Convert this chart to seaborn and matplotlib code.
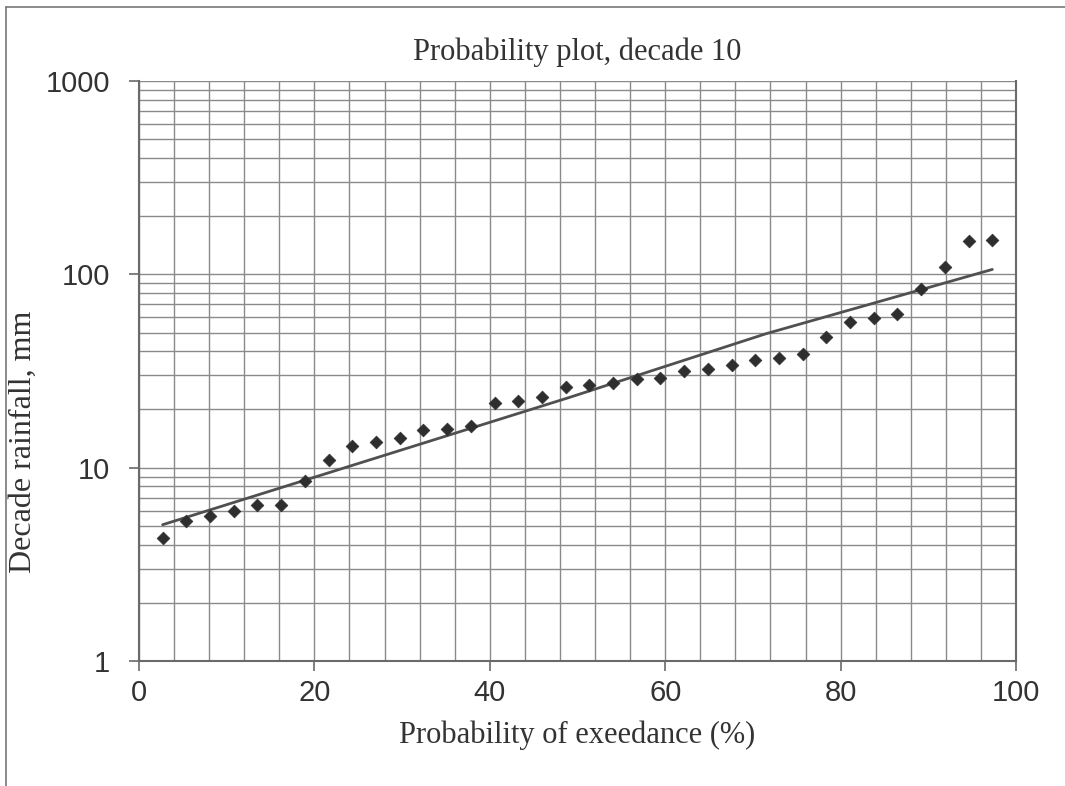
import numpy as np
import pandas as pd
import matplotlib
matplotlib.use("Agg")
import matplotlib.pyplot as plt
import matplotlib.ticker as mticker
import seaborn as sns

# plotting positions i/(n+1), n = 36
exceedance = [i / 37 * 100 for i in range(1, 37)]
rainfall = [4.35, 5.3, 5.6, 6.0, 6.4, 6.4, 8.5, 11.0, 12.9, 13.6, 14.2, 15.6,
            15.9, 16.5, 21.6, 22.1, 23.3, 26.1, 26.7, 27.5, 28.6, 29.2, 31.8, 32.3,
            33.8, 36.1, 37.0, 38.8, 47.3, 56.4, 59.4, 62.6, 83.9, 109, 148, 150]

# trend line
trend_x = [2.7, 49.1, 71.5, 97.3]
trend_y = [5.07, 23.1, 49.3, 106]

df = pd.DataFrame({'p': exceedance, 'rain': rainfall})
trend = pd.DataFrame({'p': trend_x, 'rain': trend_y})

sns.set_theme(style="white")
plt.rcParams['font.family'] = ['Liberation Sans', 'DejaVu Sans']

fig = plt.figure(figsize=(10.65, 7.86), dpi=100)
ax = fig.add_axes([0.1305, 0.159, 0.8235, 0.738])

grid_col = '#8a8a8a'
ax.set_yscale('log')
ax.set_xlim(0, 100)
ax.set_ylim(1, 1000)
ax.xaxis.set_major_locator(mticker.MultipleLocator(20))
ax.xaxis.set_minor_locator(mticker.MultipleLocator(4))
ax.yaxis.set_major_locator(mticker.LogLocator(base=10))
ax.yaxis.set_minor_locator(mticker.LogLocator(base=10, subs=np.arange(2, 10)))
ax.yaxis.set_major_formatter(mticker.FuncFormatter(lambda v, _: f"{v:g}"))
ax.yaxis.set_minor_formatter(mticker.NullFormatter())
ax.grid(True, which='both', color=grid_col, linewidth=1.0)
ax.set_axisbelow(True)

sns.lineplot(data=trend, x='p', y='rain', ax=ax, color='#505050', linewidth=2.0)
sns.scatterplot(data=df, x='p', y='rain', ax=ax, marker='D', s=42,
                color='#2e2e2e', edgecolor='#2e2e2e', zorder=3)

for side in ['left', 'bottom', 'right', 'top']:
    ax.spines[side].set_color('#6a6a6a')
    ax.spines[side].set_linewidth(1.5)
ax.spines['top'].set_visible(False)
ax.tick_params(which='major', direction='out', length=7, width=1.2, color='#6a6a6a',
               labelsize=21, labelcolor='#333333', bottom=True, left=True)
ax.tick_params(axis='y', which='major', pad=14)
ax.tick_params(axis='x', which='major', pad=6)
ax.tick_params(which='minor', length=0)

serif = ['Liberation Serif', 'DejaVu Serif']
ax.set_title('Probability plot, decade 10', family=serif, fontsize=22,
             color='#333333', pad=15)
ax.set_xlabel('Probability of exeedance (%)', family=serif, fontsize=22,
              color='#333333', labelpad=10)
ax.set_ylabel('Decade rainfall, mm', family=serif, fontsize=23,
              color='#333333')
ax.yaxis.set_label_coords(-0.115, 0.378)

# chart-area frame (left and top edges visible in the scan)
fig.add_artist(plt.Line2D([0.006, 0.006], [0.0, 0.991], color='#777777', lw=1.2))
fig.add_artist(plt.Line2D([0.006, 1.0], [0.991, 0.991], color='#777777', lw=1.2))

fig.savefig('out.png', dpi=100)
